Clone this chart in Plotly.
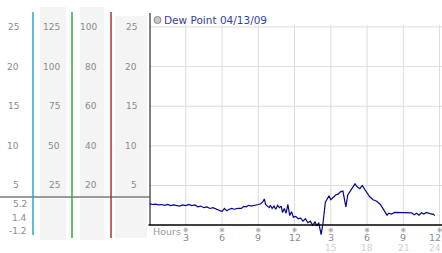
import plotly.graph_objects as go

# ---------------- data ----------------
hours = [0, 0.25, 0.5, 0.75, 1.0, 1.25, 1.5, 1.75, 2.0, 2.25, 2.5, 2.75, 3.0, 3.25, 3.5, 3.75,
         4.0, 4.25, 4.5, 4.75, 5.0, 5.25, 5.5, 5.75, 6.0, 6.2, 6.4, 6.6, 6.8, 7.0, 7.3, 7.6,
         7.8, 8.0, 8.2, 8.4, 8.7, 9.0, 9.2, 9.4, 9.5, 9.6, 9.75, 9.9, 10.0, 10.15, 10.3, 10.45,
         10.6, 10.75, 10.9, 11.0, 11.15, 11.3, 11.45, 11.6, 11.75, 11.9, 12.1, 12.3, 12.5, 12.7,
         12.9, 13.1, 13.3, 13.5, 13.7, 13.85, 14.0, 14.1, 14.2, 14.35, 14.45, 14.55, 14.7, 14.85,
         15.0, 15.2, 15.4, 15.6, 15.8, 16.0, 16.1, 16.25, 16.4, 16.6, 16.8, 17.0, 17.2, 17.4,
         17.6, 17.8, 18.0, 18.2, 18.5, 18.8, 19.1, 19.3, 19.5, 19.65, 19.8, 20.0, 20.3, 20.6,
         21.0, 21.4, 21.7, 21.9, 22.1, 22.3, 22.5, 22.7, 22.9, 23.2, 23.5, 23.6]
dew_point = [2.7, 2.6, 2.65, 2.55, 2.6, 2.5, 2.6, 2.45, 2.55, 2.5, 2.4, 2.55, 2.45, 2.6, 2.45, 2.55,
             2.3, 2.4, 2.2, 2.3, 2.1, 2.2, 2.0, 1.8, 1.7, 2.1, 1.8, 2.0, 2.1, 2.0, 2.1, 2.1,
             2.35, 2.3, 2.5, 2.4, 2.55, 2.6, 2.7, 3.0, 3.3, 2.6, 2.4, 2.2, 2.5, 2.1, 2.4, 2.0,
             2.5, 2.2, 2.4, 1.6, 2.1, 1.5, 2.6, 1.2, 1.7, 1.0, 1.1, 0.8, 0.9, 0.5,
             0.8, 0.3, 0.5, 0.0, 0.4, -0.1, 0.3, -0.5, -1.2, 0.2, 1.5, 2.9, 3.3, 3.7,
             3.2, 3.5, 3.8, 3.9, 4.2, 4.3, 3.5, 2.3, 3.8, 4.3, 4.8, 5.2, 4.8, 4.6,
             5.0, 4.5, 4.0, 3.6, 3.2, 3.0, 2.6, 2.1, 1.5, 1.25, 1.5, 1.4, 1.6, 1.6,
             1.6, 1.6, 1.55, 1.3, 1.5, 1.25, 1.55, 1.4, 1.6, 1.45, 1.35, 1.2]

x_ticks = [3, 6, 9, 12, 15, 18, 21, 24]
x_tick_labels = ["3", "6", "9", "12", "3", "6", "9", "12"]
x_tick_labels2 = ["", "", "", "", "15", "18", "21", "24"]
y_ticks = [25, 20, 15, 10, 5]
col1_labels = ["25", "20", "15", "10", "5"]
col2_labels = ["125", "100", "75", "50", "25"]
col3_labels = ["100", "80", "60", "40", "20"]
col4_labels = ["25", "20", "15", "10", "5"]
stats_labels = ["5.2", "1.4", "-1.2"]
legend_text = "Dew Point 04/13/09"

# ---------------- layout helpers ----------------
W, H = 442, 253
FONT = "DejaVu Sans"


def px(x):
    return x / W


def py(y):
    return 1 - y / H


X0 = 149.5
XSCALE = 12.087
Y_TOP, Y_BOT = 13, 245
UNIT = 7.925
Y_ZERO = 225.1
y_range = [(Y_ZERO - Y_BOT) / UNIT, (Y_ZERO - Y_TOP) / UNIT]

fig = go.Figure()
fig.add_trace(go.Scatter(x=hours, y=dew_point, mode="lines",
                         line=dict(color="#05058f", width=1.2),
                         showlegend=False, hoverinfo="skip"))

# small tick decorations (tiny asterisk-like marks at ticks)
tick_mark = dict(symbol="asterisk-open", size=4, color="#aaaaaa",
                 line=dict(color="#aaaaaa", width=1))
fig.add_trace(go.Scatter(x=x_ticks, y=[(Y_ZERO - 230) / UNIT] * len(x_ticks), mode="markers",
                         marker=tick_mark, cliponaxis=False, showlegend=False,
                         hoverinfo="skip"))
fig.add_trace(go.Scatter(x=[(145.5 - X0) / XSCALE] * len(y_ticks), y=y_ticks, mode="markers",
                         marker=tick_mark, cliponaxis=False, showlegend=False,
                         hoverinfo="skip"))

shapes = []
annotations = []

# left panel backgrounds
for (x0, x1, y0, y1) in [(40, 66, 7, 240), (80, 104, 7, 240), (115, 147, 16, 238)]:
    shapes.append(dict(type="rect", xref="paper", yref="paper", x0=px(x0), x1=px(x1),
                       y0=py(y1), y1=py(y0), fillcolor="#f4f4f4", line=dict(width=0),
                       layer="below"))

# gridlines
for v in y_ticks:
    shapes.append(dict(type="line", xref="paper", yref="y", x0=px(X0), x1=1, y0=v, y1=v,
                       line=dict(color="#dcdcdc", width=1), layer="below"))
for h in x_ticks:
    shapes.append(dict(type="line", xref="x", yref="y", x0=h, x1=h, y0=0,
                       y1=(Y_ZERO - 25) / UNIT, line=dict(color="#dcdcdc", width=1),
                       layer="below"))

# gray separator line in left panel
shapes.append(dict(type="line", xref="paper", yref="paper", x0=0, x1=px(X0), y0=py(197),
                   y1=py(197), line=dict(color="#9a9a9a", width=2)))

# colored vertical lines
for (x, c, y1) in [(33, "#3a9fc8", 235), (72, "#3aa83a", 238), (111, "#b03030", 238)]:
    shapes.append(dict(type="line", xref="paper", yref="paper", x0=px(x), x1=px(x),
                       y0=py(y1), y1=py(12), line=dict(color=c, width=1.5)))

# axes
shapes.append(dict(type="line", xref="x", yref="y", x0=0, x1=0, y0=0,
                   y1=(Y_ZERO - Y_TOP) / UNIT, line=dict(color="black", width=2)))
shapes.append(dict(type="line", xref="paper", yref="y", x0=px(X0 - 1), x1=1, y0=0, y1=0,
                   line=dict(color="black", width=1.5)))

# legend marker
shapes.append(dict(type="circle", xref="paper", yref="paper", x0=px(154), x1=px(161),
                   y0=py(23.5), y1=py(16.5), fillcolor="#c8c8c8",
                   line=dict(color="#8a8a8a", width=1)))


def txt(x, y, t, color="#8a8a8a", size=9, xanchor="right", yref="paper", xref="paper"):
    annotations.append(dict(x=x, y=y, xref=xref, yref=yref, text=t, showarrow=False,
                            xanchor=xanchor, yanchor="middle", borderpad=0,
                            font=dict(family=FONT, size=size, color=color)))


for v, a, b, c, d in zip(y_ticks, col1_labels, col2_labels, col3_labels, col4_labels):
    txt(px(20), v, a, yref="y")
    txt(px(61), v, b, yref="y")
    txt(px(98), v, c, yref="y")
    txt(px(138), v, d, yref="y")

for s, y in zip(stats_labels, [204, 217.5, 230.5]):
    txt(px(28), py(y), s)

last = x_ticks[-1]
for h, l1, l2 in zip(x_ticks, x_tick_labels, x_tick_labels2):
    # the last pair of labels is kept inside the right edge
    xr, xa = (px(441.5), "right") if h == last else (h, "center")
    xref = "paper" if h == last else "x"
    txt(xr, py(237.5), l1, xanchor=xa, xref=xref, size=9.5)
    if l2:
        txt(xr, py(247.5), l2, color="#d0d0d0", xanchor=xa, xref=xref, size=9)

txt(px(152), py(231.5), "Hours", color="#999999", xanchor="left", size=9.5)
txt(px(163), py(20), legend_text, color="#3340a8", xanchor="left", size=10.5)

fig.update_layout(
    width=W, height=H,
    margin=dict(l=0, r=0, t=0, b=0, pad=0),
    paper_bgcolor="white", plot_bgcolor="rgba(0,0,0,0)",
    xaxis=dict(domain=[px(X0), 1], range=[0, (W - X0) / XSCALE], visible=False,
               fixedrange=True),
    yaxis=dict(domain=[py(Y_BOT), py(Y_TOP)], range=y_range, visible=False,
               fixedrange=True),
    shapes=shapes, annotations=annotations, showlegend=False,
)

fig.write_html("out.html", config={"displayModeBar": False})
